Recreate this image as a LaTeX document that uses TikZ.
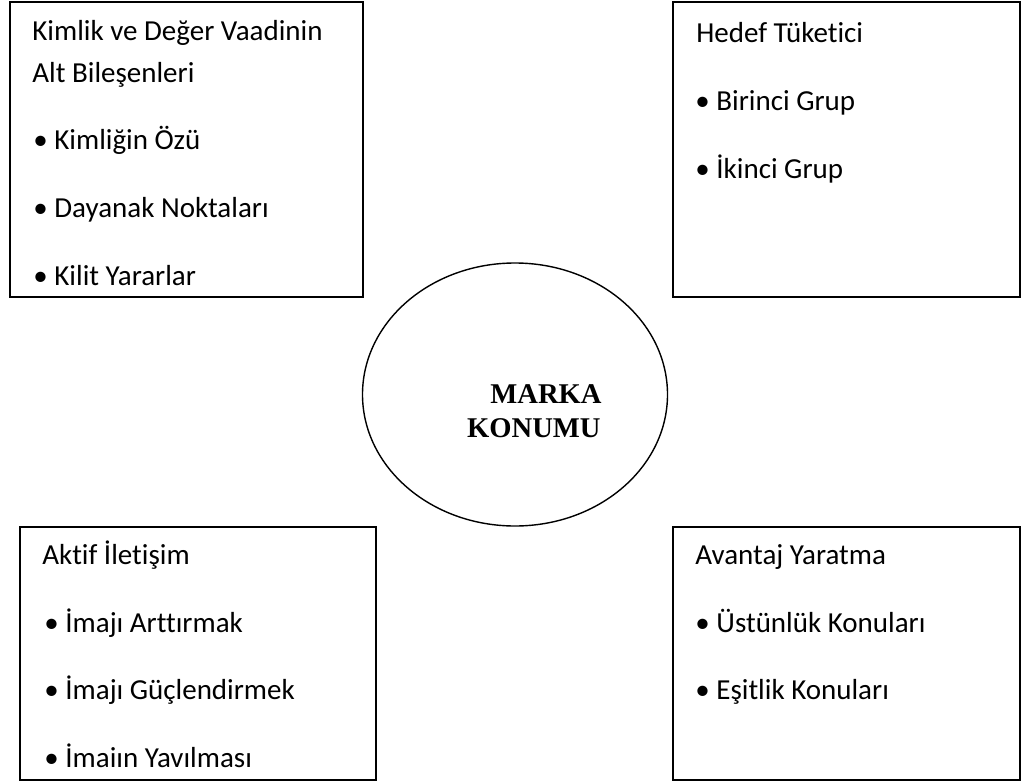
\documentclass[tikz,border=0pt]{standalone}
\usepackage{fontspec}
\setmainfont{Carlito}[Ligatures=NoCommon]
\newfontfamily\serifbold{Liberation Serif}
\newcommand\itm[1]{\makebox[10.5pt][l]{•}#1}

\begin{document}
\begin{tikzpicture}[x=0.5pt,y=-0.5pt,
  txt/.style={anchor=base west,inner sep=0pt,font=\fontsize{14.5}{17}\selectfont},
  mid/.style={anchor=base east,inner sep=0pt,font=\serifbold\bfseries\fontsize{14.3}{17}\selectfont}]

\useasboundingbox (0,0) rectangle (1023,782);

\draw[line width=0.9pt] (10,2) rectangle (363,297);
\draw[line width=0.9pt] (673,2) rectangle (1020,297);
\draw[line width=0.9pt] (20,527) rectangle (376,780);
\draw[line width=0.9pt] (673,527) rectangle (1020,780);

\draw[line width=0.7pt] (515,394.5) ellipse (152.5 and 131.5);

\node[txt] (kimlik) at (32,40) {Kimlik ve Değer Vaadinin};
\node[txt] (alt) at (32,82) {Alt Bileşenleri};
\node[txt] (oz) at (33,149) {\itm{Kimliğin Özü}};
\node[txt] (dayanak) at (33,217) {\itm{Dayanak Noktaları}};
\node[txt] (kilit) at (33,285) {\itm{Kilit Yararlar}};

\node[txt] (hedef) at (696,42) {Hedef Tüketici};
\node[txt] (birinci) at (695,110) {\itm{Birinci Grup}};
\node[txt] (ikinci) at (695,178) {\itm{İkinci Grup}};

\node[txt] (aktif) at (42,564) {Aktif İletişim};
\node[txt] (arttir) at (44,632) {\itm{İmajı Arttırmak}};
\node[txt] (guclen) at (44,699) {\itm{İmajı Güçlendirmek}};
\node[txt] (yayil) at (44,767) {\itm{İmaiın Yavılması}};

\node[txt] (avantaj) at (695,564) {Avantaj Yaratma};
\node[txt] (ustun) at (695,632) {\itm{Üstünlük Konuları}};
\node[txt] (esit) at (695,699) {\itm{Eşitlik Konuları}};

\node[mid] (marka) at (602,403) {MARKA};
\node[mid] (konumu) at (601,437) {KONUMU};

\end{tikzpicture}
\end{document}
